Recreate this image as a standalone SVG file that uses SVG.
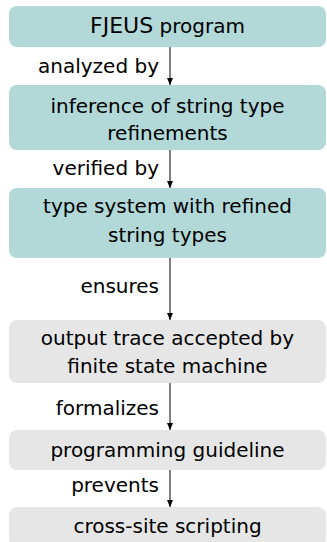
<svg xmlns="http://www.w3.org/2000/svg" width="327" height="542" viewBox="0 0 327 542">
<style>
.t{fill:#b2d8d8}
.g{fill:#e6e6e6}
text{font-family:"DejaVu Sans",sans-serif;font-size:20px;fill:#000}
.c{text-anchor:middle}
.l{text-anchor:end}
.e{stroke:#000;stroke-width:1;fill:none;marker-end:url(#ah)}
</style>
<defs>
<marker id="ah" markerWidth="8" markerHeight="8" refX="7" refY="4" orient="auto" markerUnits="userSpaceOnUse">
<path d="M0,1 L7,4 L0,7 Z" fill="#000"/>
</marker>
</defs>
<g id="n1"><rect class="t" x="9" y="6" width="317" height="41" rx="8"/><text class="c" x="167.5" y="33"><tspan font-size="22">FJEUS</tspan> program</text></g>
<g id="n2"><rect class="t" x="9" y="85" width="317" height="65" rx="8"/><text class="c" x="167.5" y="113">inference of string type</text><text class="c" x="167.5" y="140">refinements</text></g>
<g id="n3"><rect class="t" x="9" y="188" width="317" height="70" rx="8"/><text class="c" x="167.5" y="213">type system with refined</text><text class="c" x="167.5" y="242">string types</text></g>
<g id="n4"><rect class="g" x="9" y="320" width="317" height="63" rx="8"/><text class="c" x="167.5" y="345">output trace accepted by</text><text class="c" x="167.5" y="373">finite state machine</text></g>
<g id="n5"><rect class="g" x="9" y="430" width="317" height="40" rx="8"/><text class="c" x="167.5" y="457">programming guideline</text></g>
<g id="n6"><rect class="g" x="9" y="507" width="317" height="40" rx="8"/><text class="c" x="167.5" y="533">cross-site scripting</text></g>
<g id="edges">
<line class="e" x1="170" y1="47" x2="170" y2="85"/>
<line class="e" x1="170" y1="150" x2="170" y2="188"/>
<line class="e" x1="170" y1="258" x2="170" y2="320"/>
<line class="e" x1="170" y1="383" x2="170" y2="430"/>
<line class="e" x1="170" y1="470" x2="170" y2="507"/>
<text class="l" x="159" y="73">analyzed by</text>
<text class="l" x="159" y="175">verified by</text>
<text class="l" x="159" y="293">ensures</text>
<text class="l" x="159" y="415">formalizes</text>
<text class="l" x="159" y="492">prevents</text>
</g>
</svg>
